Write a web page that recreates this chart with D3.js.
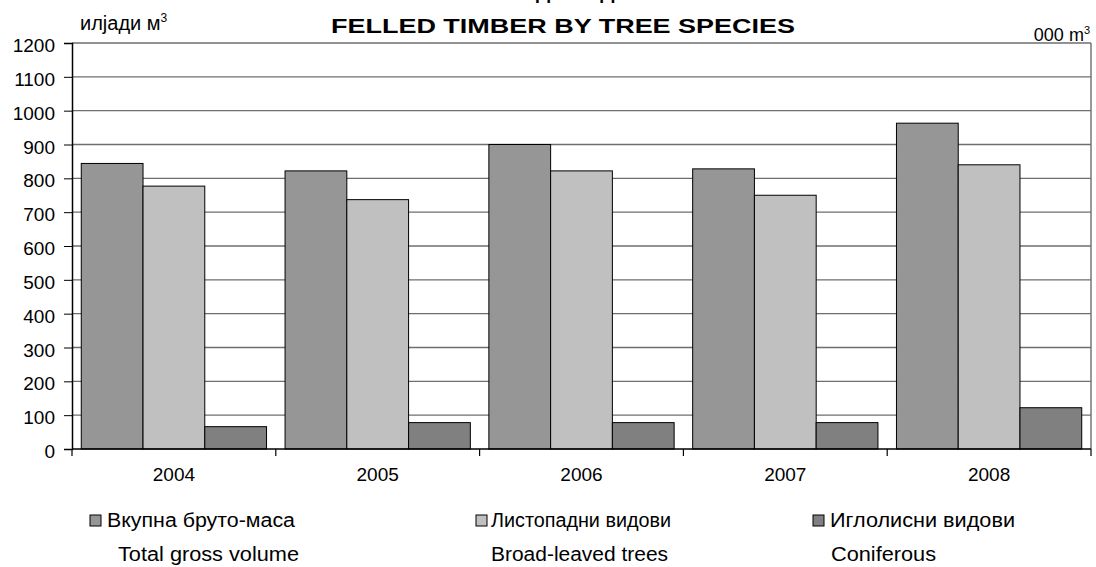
<!DOCTYPE html>
<html>
<head>
<meta charset="utf-8">
<script src="https://cdn.jsdelivr.net/npm/d3@7"></script>
<style>
  body { margin: 0; background: #fff; }
  svg { font-family: "Liberation Sans", Arial, sans-serif; }
</style>
</head>
<body>
<svg width="1096" height="567"></svg>
<script>
const YEARS = ['2004', '2005', '2006', '2007', '2008'];
const TOTAL = [844, 822, 900, 828, 963];
const BROAD = [777, 737, 822, 750, 840];
const CONIF = [66, 78, 78, 78, 122];
const SERIES_MK = ['Вкупна бруто-маса', 'Листопадни видови', 'Иглолисни видови'];
const SERIES_EN = ['Total gross volume', 'Broad-leaved trees', 'Coniferous'];
const Y_TICKS = [0, 100, 200, 300, 400, 500, 600, 700, 800, 900, 1000, 1100, 1200];

const colors = ['#969696', '#c0c0c0', '#808080'];
const seriesValues = [TOTAL, BROAD, CONIF];

const svg = d3.select('svg');
const plotLeft = 72, plotRight = 1091, plotTop = 43, plotBottom = 449;

const x = d3.scaleBand().domain(YEARS).range([plotLeft, plotRight]);
const xInner = d3.scaleBand().domain([0, 1, 2]).range([0, x.bandwidth()]).paddingOuter(0.15);
const y = d3.scaleLinear().domain([0, 1200]).range([plotBottom, plotTop]);

// Macedonian title, clipped at the top edge as in the source
const mkTitle = svg.append('text')
    .attr('x', 470).attr('y', -1)
    .attr('font-size', 20).attr('font-weight', 'bold')
    .text('ПОСЕЧЕНА МАСА ПО ВИДОВИ ДРВЈА');
const firstD = mkTitle.text().indexOf('Д');
const dPos = mkTitle.node().getStartPositionOfChar(firstD).x;
mkTitle.attr('x', 470 + (536 - dPos));

svg.append('text')
    .attr('x', 331).attr('y', 33)
    .attr('font-size', 20).attr('font-weight', 'bold')
    .attr('textLength', 464).attr('lengthAdjust', 'spacingAndGlyphs')
    .text('FELLED TIMBER BY TREE SPECIES');

const unitMk = svg.append('text').attr('x', 80).attr('y', 30).attr('font-size', 20);
unitMk.append('tspan').text('илјади м');
unitMk.append('tspan').attr('dy', -8).attr('font-size', 12).text('3');

const unitEn = svg.append('text').attr('x', 1090).attr('y', 41).attr('font-size', 18).attr('text-anchor', 'end');
unitEn.append('tspan').text('000 m');
unitEn.append('tspan').attr('dy', -7).attr('font-size', 11).text('3');

// gridlines
svg.append('g')
    .selectAll('line')
    .data(Y_TICKS.filter(d => d > 0))
    .enter()
    .append('line')
    .attr('x1', plotLeft).attr('x2', plotRight)
    .attr('y1', d => y(d)).attr('y2', d => y(d))
    .attr('stroke', '#6e6e6e')
    .attr('stroke-width', 1.4);

// right border
svg.append('line')
    .attr('x1', plotRight).attr('x2', plotRight)
    .attr('y1', plotTop).attr('y2', plotBottom)
    .attr('stroke', '#6e6e6e').attr('stroke-width', 1.4);

// bars
YEARS.forEach((year, i) => {
    seriesValues.forEach((vals, s) => {
        svg.append('rect')
            .attr('x', x(year) + xInner(s))
            .attr('y', y(vals[i]))
            .attr('width', xInner.bandwidth())
            .attr('height', plotBottom - y(vals[i]))
            .attr('fill', colors[s])
            .attr('stroke', '#000')
            .attr('stroke-width', 1);
    });
});

// y axis
const yAxis = svg.append('g')
    .attr('transform', `translate(${plotLeft},0)`)
    .call(d3.axisLeft(y).tickValues(Y_TICKS).tickFormat(d3.format('d')).tickSize(8).tickPadding(9));
yAxis.select('.domain').attr('stroke', '#000').attr('stroke-width', 1.5);
yAxis.selectAll('.tick line').attr('stroke', '#000');
yAxis.selectAll('text').attr('font-size', 19).attr('fill', '#000')
    .attr('dy', '0.45em')
    .attr('font-family', '"Liberation Sans", Arial, sans-serif');

// x axis
svg.append('line')
    .attr('x1', plotLeft).attr('x2', plotRight)
    .attr('y1', plotBottom).attr('y2', plotBottom)
    .attr('stroke', '#000').attr('stroke-width', 1.5);

svg.append('g')
    .selectAll('line')
    .data(YEARS.concat(['end']))
    .enter()
    .append('line')
    .attr('x1', (d, i) => plotLeft + i * x.bandwidth())
    .attr('x2', (d, i) => plotLeft + i * x.bandwidth())
    .attr('y1', plotBottom).attr('y2', plotBottom + 7)
    .attr('stroke', '#000').attr('stroke-width', 1.2);

svg.append('g')
    .selectAll('text')
    .data(YEARS)
    .enter()
    .append('text')
    .attr('x', d => x(d) + x.bandwidth() / 2)
    .attr('y', 481)
    .attr('text-anchor', 'middle')
    .attr('font-size', 19)
    .text(d => d);

// legend
const legX = [90, 476, 813];
const mkX = [107, 491, 830];
const mkW = [188, 180, 185];
const enX = [118, 491, 831];
const enW = [181, 177, 105];
SERIES_MK.forEach((name, s) => {
    svg.append('rect')
        .attr('x', legX[s]).attr('y', 515)
        .attr('width', 11).attr('height', 11)
        .attr('fill', colors[s]).attr('stroke', '#000').attr('stroke-width', 1);
    svg.append('text')
        .attr('x', mkX[s]).attr('y', 527)
        .attr('font-size', 20)
        .attr('textLength', mkW[s]).attr('lengthAdjust', 'spacingAndGlyphs')
        .text(name);
    svg.append('text')
        .attr('x', enX[s]).attr('y', 561)
        .attr('font-size', 20)
        .attr('textLength', enW[s]).attr('lengthAdjust', 'spacingAndGlyphs')
        .text(SERIES_EN[s]);
});
</script>
</body>
</html>
